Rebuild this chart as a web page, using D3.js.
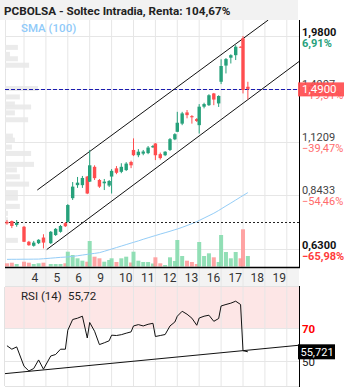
<!DOCTYPE html>
<html>
<head>
<meta charset="utf-8">
<script src="https://cdn.jsdelivr.net/npm/d3@7"></script>
<style>
  body { margin: 0; background: #fff; }
  text { font-family: Roboto, "Noto Sans", sans-serif; }
</style>
</head>
<body>
<div id="chart"></div>
<script>
// ---- data ----
const days = ["3", "4", "5", "6", "9", "10", "11", "12", "13", "16", "17", "18", "19"];
const firstLabelDay = 1; // "3" is cut off on the left

// 2h candles: day index + start hour (session 9:00 - 18:00)
const candleDay = [0, 0, 0, 1, 1, 1, 1, 1, 2, 2, 2, 2,
  3, 3, 3, 3, 3, 4, 4, 4, 4, 4, 5, 5, 5, 5, 5, 6, 6, 6, 6, 6,
  7, 7, 7, 7, 7, 8, 8, 8, 8, 8, 9, 9, 9, 9, 9, 10, 10, 10, 10, 10, 11, 11];
const candleHour = [11, 13, 15, 9, 11, 13, 15, 17, 11, 13, 15, 17,
  9, 11, 13, 15, 17, 9, 11, 13, 15, 17, 9, 11, 13, 15, 17, 9, 11, 13, 15, 17,
  9, 11, 13, 15, 17, 9, 11, 13, 15, 17, 9, 11, 13, 15, 17, 9, 11, 13, 15, 17, 9, 11];

const open = [0.729, 0.732, 0.717, 0.710, 0.655, 0.641, 0.650, 0.670, 0.650, 0.679, 0.691, 0.724,
  0.729, 0.828, 0.888, 0.888, 0.930, 0.905, 0.980, 0.913, 0.897, 0.886, 0.930, 0.972, 0.954, 0.963, 1.006,
  1.073, 1.043, 1.052, 1.055, 1.088, 1.111, 1.049, 1.043, 1.073, 1.136, 1.183, 1.236, 1.313, 1.287, 1.267,
  1.226, 1.354, 1.365, 1.454, 1.378, 1.548, 1.689, 1.762, 1.786, 1.869, 1.956, 1.507];
const high = [0.736, 0.734, 0.736, 0.713, 0.658, 0.658, 0.664, 0.682, 0.694, 0.705, 0.717, 0.728,
  0.802, 0.903, 0.928, 0.933, 0.933, 1.073, 0.988, 0.918, 0.918, 0.913, 0.968, 0.984, 0.999, 1.005, 1.013,
  1.142, 1.078, 1.073, 1.096, 1.102, 1.113, 1.058, 1.066, 1.144, 1.174, 1.317, 1.317, 1.330, 1.294, 1.274,
  1.373, 1.383, 1.448, 1.458, 1.440, 1.747, 1.759, 1.795, 1.885, 1.872, 1.980, 1.548];
const low = [0.718, 0.705, 0.710, 0.654, 0.641, 0.638, 0.647, 0.632, 0.647, 0.676, 0.688, 0.709,
  0.726, 0.820, 0.875, 0.875, 0.846, 0.903, 0.913, 0.875, 0.865, 0.879, 0.849, 0.942, 0.947, 0.958, 0.973,
  1.038, 1.032, 1.043, 1.049, 1.085, 1.016, 1.019, 1.038, 1.067, 1.131, 1.181, 1.226, 1.272, 1.236, 1.247,
  1.172, 1.342, 1.359, 1.365, 1.352, 1.529, 1.619, 1.708, 1.740, 1.860, 1.454, 1.409];
const close = [0.723, 0.713, 0.725, 0.655, 0.643, 0.652, 0.662, 0.652, 0.691, 0.702, 0.713, 0.712,
  0.798, 0.881, 0.900, 0.923, 0.849, 0.988, 0.922, 0.881, 0.905, 0.908, 0.959, 0.949, 0.980, 0.997, 0.988,
  1.043, 1.063, 1.064, 1.087, 1.096, 1.043, 1.027, 1.063, 1.137, 1.168, 1.242, 1.306, 1.294, 1.279, 1.254,
  1.354, 1.373, 1.440, 1.407, 1.434, 1.685, 1.749, 1.786, 1.869, 1.863, 1.481, 1.490];
const volume = [32, 38, 25, 48, 38, 25, 32, 38, 25, 25, 25, 32,
  148, 115, 82, 58, 48, 255, 98, 82, 48, 65, 82, 45, 82, 98, 40,
  148, 58, 45, 45, 30, 92, 32, 15, 92, 55, 265, 105, 58, 45, 25,
  245, 105, 132, 92, 45, 315, 145, 82, 145, 82, 372, 105];
const sma100 = [0.5958, 0.5961, 0.5961, 0.5964, 0.5964, 0.5966, 0.5967, 0.5978, 0.5997, 0.6010, 0.6023, 0.6032,
  0.6039, 0.6055, 0.6075, 0.6098, 0.6121, 0.6134, 0.6153, 0.6177, 0.6223, 0.6274, 0.6298, 0.6349, 0.6400,
  0.6452, 0.6504, 0.6529, 0.6581, 0.6638, 0.6692, 0.6746, 0.6771, 0.6826, 0.6877, 0.6930, 0.6987, 0.7014,
  0.7077, 0.7149, 0.7219, 0.7297, 0.7344, 0.7440, 0.7536, 0.7634, 0.7750, 0.7813, 0.7940, 0.8065, 0.8197,
  0.8331, 0.8398, 0.8531];
const rsi14 = [59.4, 57.3, 58.7, 47.0, 44.1, 45.6, 50.8, 45.2, 53.2, 54.1, 57.3, 57.3,
  68.8, 75.3, 76.1, 77.3, 64.1, 73.5, 68.2, 60.1, 61.2, 62.4, 65.8, 65.6, 66.1, 67.0, 67.8,
  71.4, 72.2, 71.4, 72.4, 73.0, 65.0, 65.6, 66.2, 71.4, 73.8, 77.3, 80.3, 78.5, 76.1, 71.8,
  76.2, 77.3, 77.9, 74.2, 75.9, 83.5, 84.4, 85.2, 86.4, 84.4, 56.4, 55.721];

// price axis levels and reference for the % labels
const priceTicks = [0.63, 0.8433, 1.1209, 1.4907, 1.98];
const pctBase = 1.85195;
const refLevel = 0.727;     // dotted black line
const lastPrice = 1.49;      // dashed blue line

// volume profile (left side)
const profilePrice = [1.862, 1.794, 1.752, 1.692, 1.493, 1.427, 1.374, 1.352, 1.310, 1.262, 1.156, 1.131,
  1.090, 1.053, 0.993, 0.964, 0.929, 0.893, 0.853, 0.828, 0.792, 0.763, 0.737, 0.660];
const profileVol = [39, 15, 39, 73, 100, 45, 30, 79, 30, 70, 24, 30, 21, 79, 88, 36, 45, 73, 39, 39, 45, 9, 9, 39];

// trend lines: [day position, value]
const channelUpper = [[1.607, 0.865], [12.155, 2.158]];
const channelLower = [[2.036, 0.628], [13.557, 1.726]];
const rsiTrend = [[0.132, 42.5], [13.557, 59.7]];

const title = "PCBOLSA - Soltec Intradia, Renta: 104,67%";

// ---- setup ----
const width = 353, height = 390;
const plotLeft = 5, plotRight = 299, plotTop = 20, axisY = 267;
const rsiTop = 287, rsiBottom = 386;

const green = "#26a17b", red = "#ff4d4f";
const volGreen = "#86dcae", volRed = "#ff9a9a";
const grid = "#e6e6e6";

const loc = d3.formatLocale({ decimal: ",", thousands: ".", grouping: [3], currency: ["", ""] });
const f4 = loc.format(".4f"), f2 = loc.format(".2f"), f3 = loc.format(".3f");

const svg = d3.select("#chart").append("svg")
  .attr("width", width)
  .attr("height", height);

const x = d3.scaleLinear().domain([0, days.length]).range([2.1, 286.8]);
const y = d3.scaleLog().domain([0.63, 1.98]).range([249, 36]);
const yVol = d3.scaleLinear().domain([0, 372]).range([266.5, 229.3]);
const yRsi = d3.scaleLinear().domain([35, 95]).range([rsiBottom, rsiTop]);
const xProf = d3.scaleLinear().domain([0, 100]).range([0, 33]);

const tpos = i => candleDay[i] + (candleHour[i] - 9) / 9;
const idx = d3.range(open.length);

svg.append("clipPath").attr("id", "main-clip")
  .append("rect").attr("x", plotLeft).attr("y", plotTop).attr("width", plotRight - plotLeft).attr("height", axisY - plotTop);
svg.append("clipPath").attr("id", "rsi-clip")
  .append("rect").attr("x", plotLeft).attr("y", rsiTop).attr("width", plotRight - plotLeft).attr("height", rsiBottom - rsiTop);

// title bar
svg.append("rect").attr("x", 0).attr("y", 0).attr("width", 298).attr("height", plotTop).attr("fill", "#f2f2f2");
svg.append("text").attr("x", 4).attr("y", 15)
  .attr("font-size", 11.7).attr("font-weight", "bold").attr("fill", "#222").text(title);

const main = svg.append("g").attr("clip-path", "url(#main-clip)");

// grid
const bounds = d3.range(1, days.length + 1);
main.selectAll(".vgrid").data(bounds).join("line")
  .attr("x1", d => x(d)).attr("x2", d => x(d))
  .attr("y1", plotTop).attr("y2", axisY)
  .attr("stroke", grid);
main.append("line").attr("x1", plotLeft + 0.5).attr("x2", plotLeft + 0.5).attr("y1", plotTop).attr("y2", axisY).attr("stroke", grid);
main.selectAll(".hgrid").data(priceTicks).join("line")
  .attr("x1", plotLeft).attr("x2", plotRight)
  .attr("y1", d => Math.round(y(d)) + 0.5).attr("y2", d => Math.round(y(d)) + 0.5)
  .attr("stroke", grid);

// volume profile
main.selectAll(".prof").data(profilePrice).join("rect")
  .attr("x", plotLeft)
  .attr("y", d => y(d) - 2.5)
  .attr("width", (d, i) => xProf(profileVol[i]))
  .attr("height", 5)
  .attr("fill", "#e9e9e9")
  .attr("opacity", 0.9);

// volume
main.selectAll(".vol").data(idx).join("rect")
  .attr("x", i => x(tpos(i)) - 2)
  .attr("width", 4)
  .attr("y", i => yVol(volume[i]))
  .attr("height", i => yVol(0) - yVol(volume[i]))
  .attr("fill", i => (i === 0 ? close[i] >= open[i] : close[i] >= close[i - 1]) ? volGreen : volRed)
  .attr("opacity", 0.9);

// SMA
main.append("path")
  .datum(idx)
  .attr("fill", "none")
  .attr("stroke", "#94cdf7")
  .attr("stroke-width", 1)
  .attr("d", d3.line().x(i => x(tpos(i))).y(i => y(sma100[i])));

// reference lines
main.append("line")
  .attr("x1", plotLeft).attr("x2", plotRight)
  .attr("y1", Math.round(y(refLevel)) + 0.5).attr("y2", Math.round(y(refLevel)) + 0.5)
  .attr("stroke", "#222").attr("stroke-dasharray", "2,2");
main.append("line")
  .attr("x1", plotLeft).attr("x2", plotRight)
  .attr("y1", Math.round(y(lastPrice)) + 0.5).attr("y2", Math.round(y(lastPrice)) + 0.5)
  .attr("stroke", "#1b1bb0").attr("stroke-dasharray", "4,2");

// channel
const tl = d3.line().x(d => x(d[0])).y(d => y(d[1]));
[channelUpper, channelLower].forEach(c => {
  main.append("path").datum(c).attr("d", tl).attr("stroke", "#111").attr("stroke-width", 1).attr("fill", "none");
});

// candles
const candles = main.selectAll(".candle").data(idx).join("g");
candles.append("line")
  .attr("x1", i => x(tpos(i))).attr("x2", i => x(tpos(i)))
  .attr("y1", i => y(high[i])).attr("y2", i => y(low[i]))
  .attr("stroke", i => close[i] >= open[i] ? green : red);
candles.append("rect")
  .attr("x", i => x(tpos(i)) - 1.7)
  .attr("width", 3.4)
  .attr("y", i => y(Math.max(open[i], close[i])))
  .attr("height", i => Math.max(1, y(Math.min(open[i], close[i])) - y(Math.max(open[i], close[i]))))
  .attr("fill", i => close[i] >= open[i] ? green : red);

// SMA legend
svg.append("text").attr("x", 21).attr("y", 32)
  .attr("font-size", 11.5).attr("font-weight", 500).attr("fill", "#90caf9").text("SMA (100)");

// axes frame
svg.append("line").attr("x1", plotRight + 0.5).attr("x2", plotRight + 0.5).attr("y1", plotTop).attr("y2", axisY)
  .attr("stroke", "#000");
svg.append("rect").attr("x", plotLeft).attr("y", axisY + 1).attr("width", plotRight - plotLeft).attr("height", 18)
  .attr("fill", "#f3f3f3");
svg.selectAll(".bgrid").data(bounds.filter(d => x(d) < plotRight)).join("line")
  .attr("x1", d => x(d)).attr("x2", d => x(d))
  .attr("y1", axisY).attr("y2", axisY + 19)
  .attr("stroke", "#e6e6e6");
svg.append("line").attr("x1", plotLeft).attr("x2", plotRight + 1).attr("y1", axisY + 0.5).attr("y2", axisY + 0.5)
  .attr("stroke", "#000").attr("stroke-width", 1.5);

svg.selectAll(".xlab").data(days.slice(firstLabelDay)).join("text")
  .attr("x", (d, i) => x(i + firstLabelDay) + 7.5)
  .attr("y", 282)
  .attr("font-size", 12)
  .attr("fill", "#333")
  .text(d => d);

// price labels
const extreme = d => d === d3.min(priceTicks) || d === d3.max(priceTicks);
const pl = svg.selectAll(".plab").data(priceTicks).join("g");
pl.append("text")
  .attr("x", 302).attr("y", d => y(d) - 0.5)
  .attr("font-size", 11)
  .attr("font-weight", d => extreme(d) ? "bold" : "normal")
  .attr("fill", d => extreme(d) ? "#111" : "#444")
  .text(d => f4(d));
pl.append("text")
  .attr("x", 302).attr("y", d => y(d) + 10.5)
  .attr("font-size", 11)
  .attr("font-weight", d => extreme(d) ? "bold" : "normal")
  .attr("fill", d => d >= pctBase ? green : (extreme(d) ? "#ff3b3b" : "#ff6b6b"))
  .text(d => f2((d / pctBase - 1) * 100) + "%");

// last price tag
const ly = y(lastPrice);
svg.append("rect").attr("x", 298).attr("y", ly - 6.5).attr("width", 46).attr("height", 14)
  .attr("fill", red).attr("opacity", 0.92);
svg.append("text").attr("x", 302).attr("y", ly + 4.5)
  .attr("font-size", 11.5).attr("fill", "#fff").text(f4(lastPrice));

// ---- RSI panel ----
const rsiG = svg.append("g").attr("clip-path", "url(#rsi-clip)");
rsiG.append("rect").attr("x", plotLeft).attr("y", rsiTop).attr("width", plotRight - plotLeft)
  .attr("height", yRsi(70) - rsiTop).attr("fill", "#fde6e6");
rsiG.selectAll(".rv").data(bounds).join("line")
  .attr("x1", d => x(d)).attr("x2", d => x(d))
  .attr("y1", rsiTop).attr("y2", rsiBottom)
  .attr("stroke", grid);
rsiG.selectAll(".rh").data([70, 50]).join("line")
  .attr("x1", plotLeft).attr("x2", plotRight)
  .attr("y1", d => Math.round(yRsi(d)) + 0.5).attr("y2", d => Math.round(yRsi(d)) + 0.5)
  .attr("stroke", grid);
rsiG.append("path").datum(idx)
  .attr("fill", "none").attr("stroke", "#111").attr("stroke-width", 1)
  .attr("d", d3.line().x(i => x(tpos(i))).y(i => yRsi(rsi14[i])));
rsiG.append("path").datum(rsiTrend)
  .attr("fill", "none").attr("stroke", "#111").attr("stroke-width", 1)
  .attr("d", d3.line().x(d => x(d[0])).y(d => yRsi(d[1])));

svg.append("rect").attr("x", plotLeft).attr("y", rsiTop - 1).attr("width", plotRight - plotLeft).attr("height", 1).attr("fill", "#e2e2e2");
svg.append("rect").attr("x", plotLeft).attr("y", rsiBottom).attr("width", plotRight - plotLeft).attr("height", 1).attr("fill", "#e2e2e2");
svg.append("rect").attr("x", plotLeft - 1).attr("y", rsiTop).attr("width", 1).attr("height", rsiBottom - rsiTop).attr("fill", "#e2e2e2");
svg.append("line").attr("x1", plotRight + 0.5).attr("x2", plotRight + 0.5).attr("y1", rsiTop - 1).attr("y2", rsiBottom + 1)
  .attr("stroke", "#000");

svg.append("text").attr("x", 21).attr("y", 300).attr("font-size", 11.5).attr("fill", "#222").text("RSI (14)");
svg.append("text").attr("x", 68).attr("y", 300).attr("font-size", 11.5).attr("fill", "#222")
  .text(f2(rsi14[rsi14.length - 1]));

svg.append("text").attr("x", 302).attr("y", yRsi(70) + 5).attr("font-size", 11.5).attr("font-weight", "bold")
  .attr("fill", "#f00").text("70");
svg.append("text").attr("x", 302).attr("y", yRsi(50) + 5).attr("font-size", 11.5)
  .attr("fill", "#222").text("50");
const ry = yRsi(rsi14[rsi14.length - 1]);
svg.append("rect").attr("x", 298).attr("y", ry - 7.5).attr("width", 37).attr("height", 15).attr("fill", "#000");
svg.append("text").attr("x", 300.5).attr("y", ry + 4).attr("font-size", 11).attr("fill", "#fff")
  .text(f3(rsi14[rsi14.length - 1]));
</script>
</body>
</html>
